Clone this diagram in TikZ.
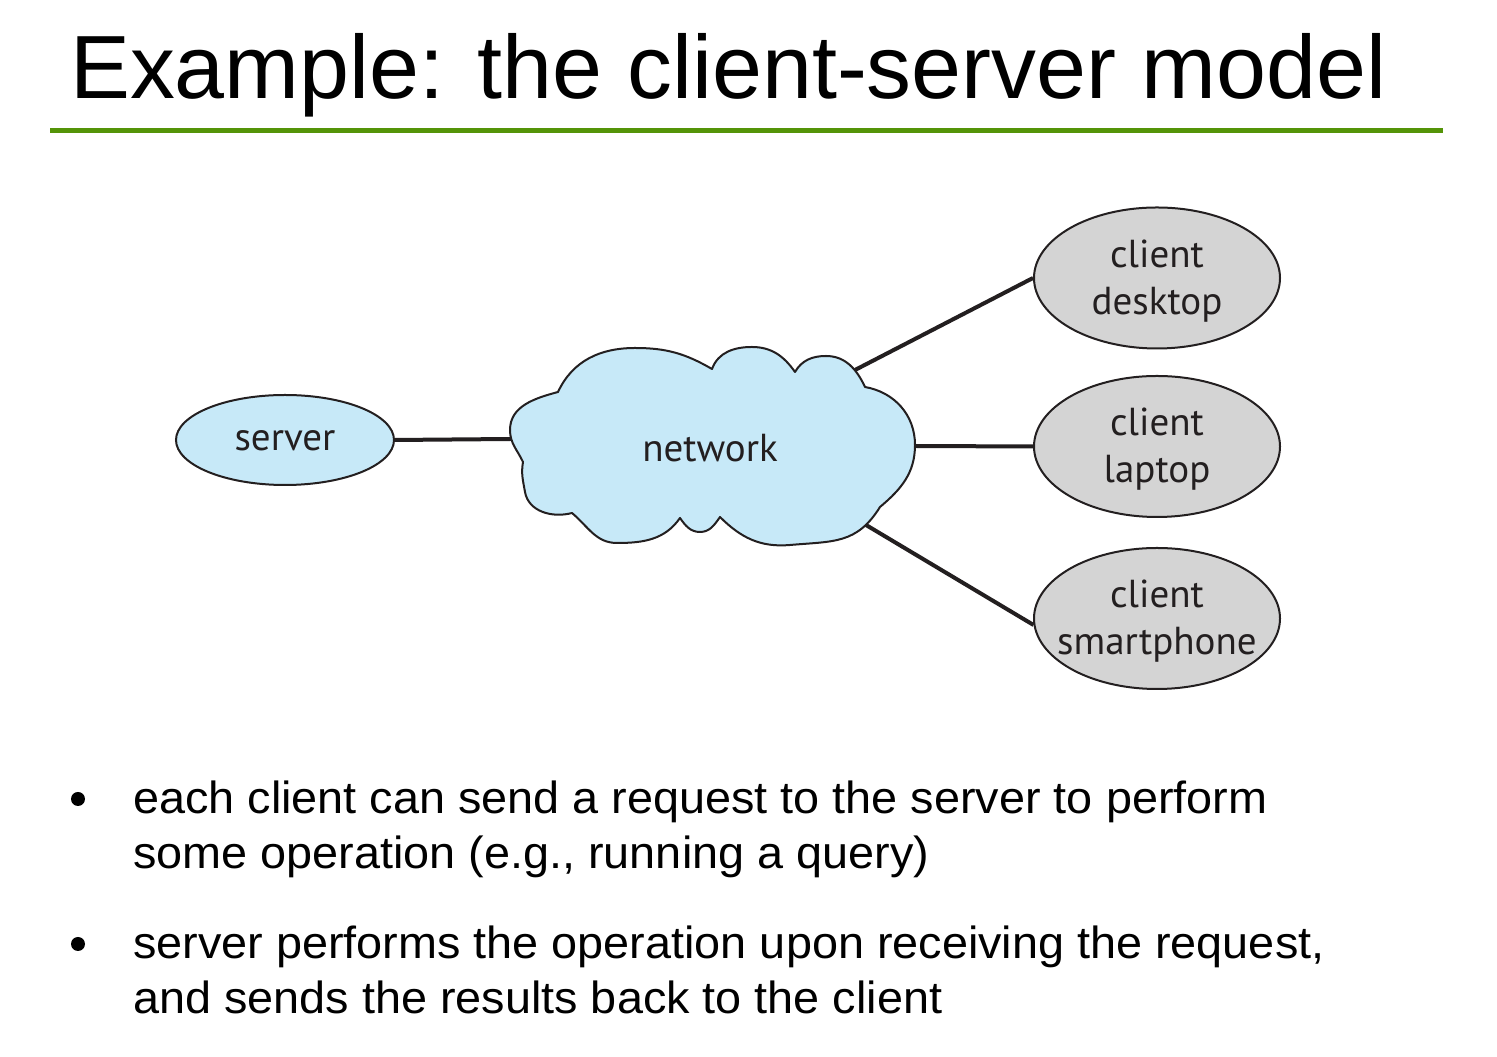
\documentclass[tikz,border=0pt]{standalone}
\usepackage{fontspec}
\setmainfont{Liberation Sans}
\newfontfamily\bulletfont[FakeStretch=1.04]{Liberation Sans}
\newfontfamily\diagfont{PT Sans}
\usetikzlibrary{shapes.geometric}
\definecolor{cloudblue}{RGB}{199,233,248}
\definecolor{clientgray}{RGB}{212,212,212}
\definecolor{outline}{RGB}{35,31,32}
\definecolor{rulegreen}{RGB}{84,148,8}
\begin{document}
\begin{tikzpicture}[x=1pt,y=1pt,
  blob/.style={ellipse,draw=outline,line width=2pt,inner sep=0pt},
  blobtext/.style={inner sep=0pt,font=\diagfont\fontsize{39}{47}\selectfont,text=outline,align=center},
  servernode/.style={blob,fill=cloudblue,minimum width=218pt,minimum height=90pt},
  clientnode/.style={blob,fill=clientgray,minimum width=246pt,minimum height=141pt},
  cloudshape/.style={draw=outline,fill=cloudblue,line width=2pt,line join=round},
  link/.style={draw=outline,line width=4pt},
  titletext/.style={anchor=base west,inner sep=0pt,font=\fontsize{89.8}{100}\selectfont},
  bullettext/.style={anchor=base west,inner sep=0pt,font=\bulletfont\fontsize{45}{55}\selectfont},
  bulletdot/.style={circle,fill=black,inner sep=0pt,minimum size=14pt}
]
\useasboundingbox (0,0) rectangle (1497,1057);
% title
\node[titletext] (title) at (70,958) {Example: the client-server model};
\coordinate (ruleL) at (50,926.5);
\coordinate (ruleR) at (1443,926.5);
\draw[rulegreen,line width=5pt] (ruleL) -- (ruleR);

% server
\node[servernode] (server) at (285,617) {};
\node[blobtext] (serverT) at (285,616) {server};

% cloud
\filldraw[cloudshape]
  (523,595) to[out=115,in=-90] (510,627) to[out=90,in=195] (558,665)
  to[out=65,in=180] (635,709) to[out=0,in=150] (712,688)
  to[out=70,in=180] (752,710) to[out=0,in=125] (795,685)
  to[out=60,in=180] (826,701) to[out=0,in=115] (865,670)
  to[out=-10,in=90] (915,612) to[out=-90,in=40] (880,550)
  to[out=238,in=5,looseness=1.15] (790,512) to[out=185,in=-45] (720,540)
  to[out=235,in=0] (700,525) to[out=180,in=-55] (680,539)
  to[out=235,in=0] (617,514) to[out=180,in=-40] (572,544)
  to[out=195,in=-80] (525,565) to[out=100,in=-100] (523,595)
  -- cycle;
\node[blobtext] (network) at (710,609) {network};
\coordinate (cloudW) at (511,618);
\coordinate (cloudNE) at (855,687);
\coordinate (cloudE) at (914,611);
\coordinate (cloudSE) at (866,532);

% clients
\node[clientnode] (desktop) at (1157,779) {};
\node[blobtext] (desktopT) at (1157,776) {client\\desktop};
\node[clientnode] (laptop) at (1157,610.5) {};
\node[blobtext] (laptopT) at (1157,607.5) {client\\laptop};
\node[clientnode] (smart) at (1157,438.5) {};
\node[blobtext] (smartT) at (1157,435.5) {client\\smartphone};

% links
\draw[link] (server.east) -- (cloudW);
\draw[link] (cloudNE) -- (desktop.west);
\draw[link] (cloudE) -- (laptop.west);
\draw[link] (cloudSE) -- (smart.183);

% bullets
\node[bulletdot] (dot1) at (78,258) {};
\node[bullettext] (b1a) at (133,243) {each client can send a request to the server to perform};
\node[bullettext] (b1b) at (133,188) {some operation (e.g., running a query)};
\node[bulletdot] (dot2) at (78,113) {};
\node[bullettext] (b2a) at (133,98) {server performs the operation upon receiving the request,};
\node[bullettext] (b2b) at (133,43) {and sends the results back to the client};
\end{tikzpicture}
\end{document}
